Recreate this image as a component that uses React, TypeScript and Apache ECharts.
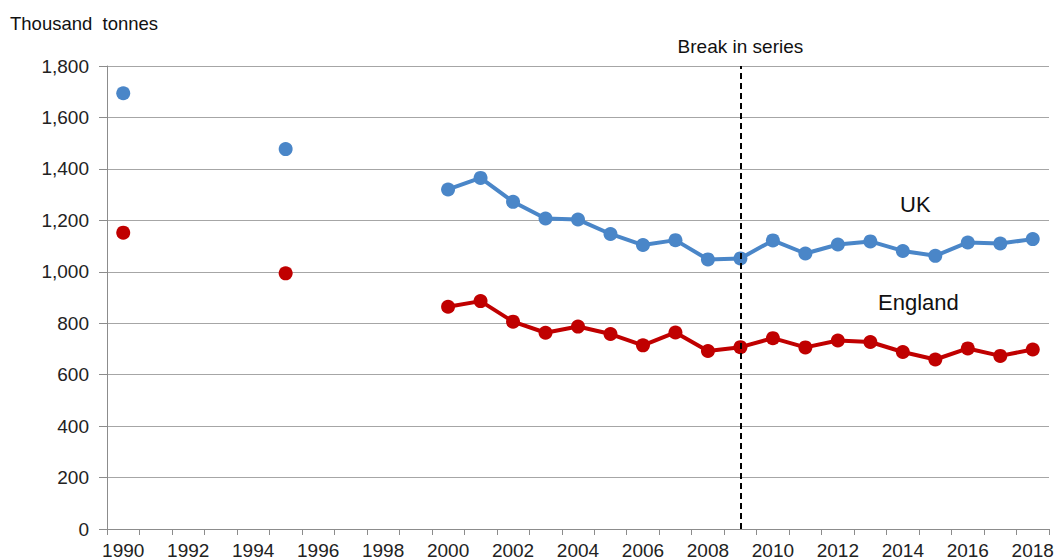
import React, { useEffect, useRef } from "react";
import * as echarts from "echarts";

const years = [
  "1990","1991","1992","1993","1994","1995","1996","1997","1998","1999",
  "2000","2001","2002","2003","2004","2005","2006","2007","2008","2009",
  "2010","2011","2012","2013","2014","2015","2016","2017","2018",
];
const ukValues = [
  1694, null, null, null, null, 1477, null, null, null, null,
  1320, 1365, 1272, 1207, 1203, 1147, 1104, 1123, 1048, 1052,
  1122, 1071, 1106, 1118, 1081, 1062, 1114, 1110, 1127,
];
const englandValues = [
  1152, null, null, null, null, 994, null, null, null, null,
  864, 886, 806, 763, 787, 758, 714, 764, 692, 707,
  742, 706, 733, 727, 688, 659, 702, 673, 698,
];
const breakYear = "2009";

const FONT = "Liberation Sans, Arial, sans-serif";

export default function App() {
  const ref = useRef<HTMLDivElement>(null);
  useEffect(() => {
    if (!ref.current) return;
    const chart = echarts.init(ref.current, undefined, { renderer: "svg" });
    chart.setOption({
      animation: false,
      textStyle: { fontFamily: FONT },
      grid: { left: 107, right: 8, top: 66, bottom: 30, containLabel: false },
      xAxis: {
        type: "category",
        data: years,
        boundaryGap: true,
        axisLine: { show: true, lineStyle: { color: "#8c8c8c", width: 1 } },
        axisTick: { show: true, interval: 0, length: 6, lineStyle: { color: "#8c8c8c" } },
        axisLabel: { interval: 1, color: "#222", fontSize: 19, fontFamily: FONT, margin: 12 },
        splitLine: { show: false },
      },
      yAxis: {
        type: "value",
        min: 0,
        max: 1800,
        interval: 200,
        axisLine: { show: true, lineStyle: { color: "#8c8c8c", width: 1 } },
        axisTick: { show: true, length: 8, lineStyle: { color: "#8c8c8c" } },
        axisLabel: {
          color: "#222",
          fontSize: 19,
          fontFamily: FONT,
          margin: 18,
          formatter: (v: number) => v.toLocaleString("en-GB"),
        },
        splitLine: { show: true, lineStyle: { color: "#a6a6a6", width: 1 } },
      },
      graphic: [
        { type: "text", left: 10, top: 14, style: { text: "Thousand  tonnes", fontSize: 18.5, fontFamily: FONT, fill: "#111" } },
        { type: "text", left: 900, top: 193, style: { text: "UK", fontSize: 22, fontFamily: FONT, fill: "#111" } },
        { type: "text", left: 878, top: 291, style: { text: "England", fontSize: 22, fontFamily: FONT, fill: "#111" } },
      ],
      series: [
        {
          name: "UK",
          type: "line",
          data: ukValues,
          connectNulls: false,
          symbol: "circle",
          symbolSize: 14,
          showSymbol: true,
          itemStyle: { color: "#4a86c8" },
          lineStyle: { color: "#4a86c8", width: 4 },
          z: 3,
        },
        {
          name: "England",
          type: "line",
          data: englandValues,
          connectNulls: false,
          symbol: "circle",
          symbolSize: 14,
          showSymbol: true,
          itemStyle: { color: "#c00000" },
          lineStyle: { color: "#c00000", width: 4 },
          z: 3,
          markLine: {
            silent: true,
            symbol: "none",
            data: [{ xAxis: breakYear }],
            lineStyle: { color: "#000", type: [6, 4], width: 2 },
            label: {
              show: true,
              position: "end",
              formatter: "Break in series",
              fontSize: 19,
              fontFamily: FONT,
              color: "#111",
              distance: 10,
            },
            z: 5,
          },
        },
      ],
    });
    return () => chart.dispose();
  }, []);
  return (
    <div
      ref={ref}
      style={{ position: "absolute", left: 0, top: 0, width: 1057, height: 560 }}
    />
  );
}
